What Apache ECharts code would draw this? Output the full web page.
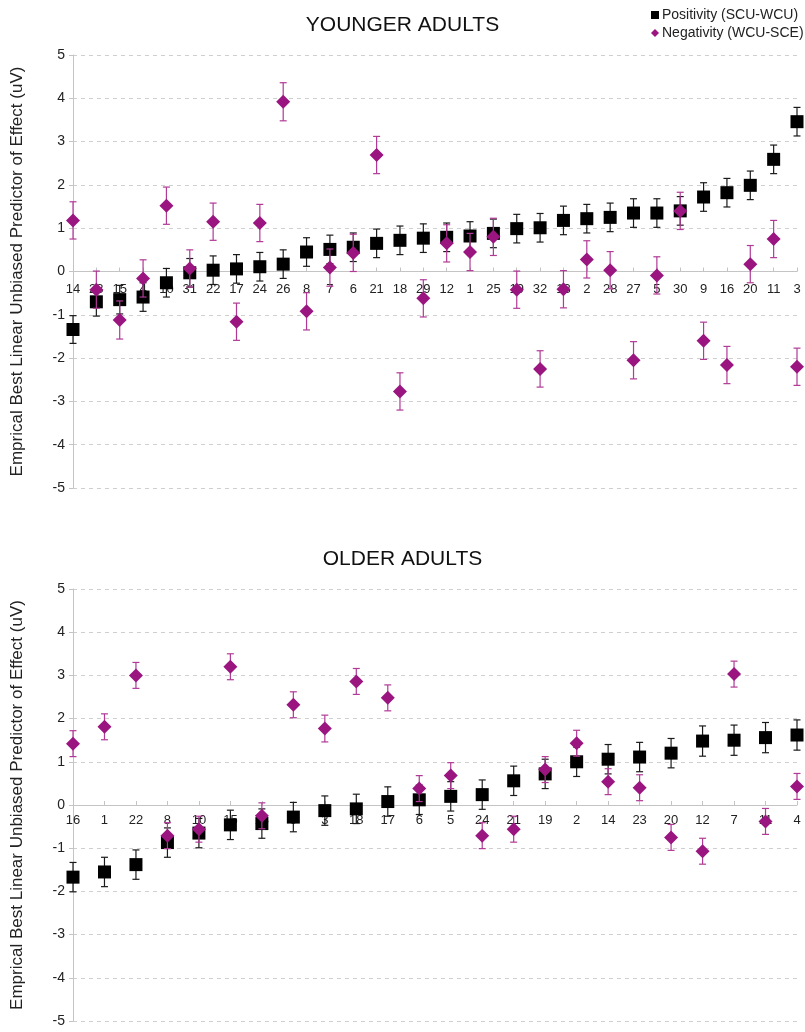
<!DOCTYPE html>
<html>
<head>
<meta charset="utf-8">
<script src="https://cdn.jsdelivr.net/npm/echarts@6/dist/echarts.min.js"></script>
<style>
html,body{margin:0;padding:0;background:#fff;}
#chart{width:805px;height:1032px;}
</style>
</head>
<body>
<div id="chart"></div>
<script>
// ---- Data ----
const catsYoung = ['14','23','15','4','10','31','22','17','24','26','8','7','6','21','18','29','12','1','25','19','32','13','2','28','27','5','30','9','16','20','11','3'];
const posYoung = [-1.34,-0.70,-0.65,-0.59,-0.26,-0.03,0.03,0.06,0.11,0.17,0.45,0.51,0.56,0.65,0.72,0.77,0.79,0.82,0.88,0.99,1.01,1.18,1.22,1.25,1.35,1.35,1.40,1.72,1.82,1.99,2.59,3.46];
const posYoungErr = [0.32,0.33,0.33,0.33,0.33,0.33,0.33,0.33,0.33,0.33,0.33,0.33,0.33,0.33,0.33,0.33,0.33,0.33,0.33,0.33,0.33,0.33,0.33,0.33,0.33,0.33,0.33,0.33,0.33,0.33,0.33,0.33];
const negYoung = [1.18,-0.42,-1.12,-0.16,1.52,0.07,1.15,-1.16,1.12,3.92,-0.92,0.09,0.43,2.69,-2.77,-0.62,0.65,0.45,0.80,-0.42,-2.25,-0.41,0.28,0.03,-2.05,-0.09,1.40,-1.60,-2.16,0.17,0.75,-2.20];
const negYoungErr = [0.43,0.43,0.44,0.43,0.43,0.43,0.43,0.43,0.43,0.44,0.43,0.43,0.43,0.43,0.43,0.43,0.43,0.43,0.43,0.43,0.42,0.43,0.43,0.43,0.43,0.43,0.43,0.43,0.43,0.43,0.43,0.43];

const catsOld = ['16','1','22','8','10','15','13','9','3','18','17','6','5','24','21','19','2','14','23','20','12','7','11','4'];
const posOld = [-1.67,-1.55,-1.38,-0.87,-0.65,-0.46,-0.43,-0.28,-0.13,-0.09,0.08,0.12,0.20,0.24,0.56,0.72,1.00,1.06,1.11,1.20,1.48,1.50,1.56,1.62];
const posOldErr = [0.34,0.34,0.34,0.34,0.34,0.34,0.34,0.34,0.34,0.34,0.34,0.34,0.34,0.34,0.34,0.34,0.34,0.34,0.34,0.34,0.35,0.35,0.35,0.35];
const negOld = [1.42,1.81,3.00,-0.71,-0.56,3.20,-0.25,2.32,1.77,2.86,2.48,0.38,0.68,-0.71,-0.56,0.82,1.43,0.54,0.40,-0.75,-1.07,3.03,-0.38,0.43];
const negOldErr = [0.30,0.30,0.30,0.30,0.30,0.30,0.30,0.30,0.31,0.30,0.30,0.30,0.30,0.30,0.30,0.30,0.30,0.30,0.30,0.30,0.30,0.30,0.30,0.30];

const yTicks = ['-5','-4','-3','-2','-1','0','1','2','3','4','5'];
const titles = ['YOUNGER ADULTS','OLDER ADULTS'];
const legendNames = ['Positivity (SCU-WCU)','Negativity (WCU-SCE)'];
const yName = 'Emprical Best Linear Unbiased Predictor of Effect (uV)';

// ---- Styling ----
const FONT = 'Liberation Sans, Arial, Helvetica, sans-serif';
const BLACK = '#000000';
const BLACK_ERR = '#1a1a1a';
const PURPLE = '#9a1580';
const PURPLE_ERR = '#b03a96';
const GRID_H = [433, 432];

function errData(vals, errs){ return vals.map((v,i)=>[i, v-errs[i], v+errs[i]]); }
function errRenderer(color){
  return function(params, api){
    const x = api.value(0);
    const hi = api.coord([x, api.value(2)]);
    const lo = api.coord([x, api.value(1)]);
    const w = 3.5;
    const st = {stroke: color, lineWidth: 1.2};
    return {type:'group', children:[
      {type:'line', shape:{x1:hi[0],y1:hi[1],x2:lo[0],y2:lo[1]}, style:st},
      {type:'line', shape:{x1:hi[0]-w,y1:hi[1],x2:hi[0]+w,y2:hi[1]}, style:st},
      {type:'line', shape:{x1:lo[0]-w,y1:lo[1],x2:lo[0]+w,y2:lo[1]}, style:st}
    ]};
  };
}

function xAxisCfg(cats, gi, margin){
  return {
    type:'category', gridIndex:gi, data:cats, boundaryGap:false,
    position:'bottom', offset: -GRID_H[gi]/2,
    axisLine:{onZero:false, lineStyle:{color:'#c4c4c4', width:1}},
    axisTick:{show:true, inside:true, length:4, alignWithLabel:true, lineStyle:{color:'#c4c4c4'}},
    axisLabel:{interval:0, fontSize:13, color:'#222', fontFamily:FONT, margin:margin},
    splitLine:{show:false}
  };
}
function yAxisCfg(gi){
  return {
    type:'value', gridIndex:gi, min:-5, max:5, interval:1,
    axisLine:{show:true, onZero:false, lineStyle:{color:'#c4c4c4'}},
    axisTick:{show:true, length:4, lineStyle:{color:'#c4c4c4'}},
    axisLabel:{fontSize:14, color:'#222', fontFamily:FONT, margin:8,
      formatter: v => yTicks[Math.round(v)+5]},
    splitLine:{show:true, lineStyle:{color:'#cfcfcf', type:[4,4], width:1}},
    name: yName, nameLocation:'middle', nameGap:47,
    nameTextStyle:{fontSize:17, color:'#222', fontFamily:FONT}
  };
}

const chart = echarts.init(document.getElementById('chart'), null, {renderer:'canvas'});
chart.setOption({
  animation:false,
  backgroundColor:'#fff',
  textStyle:{fontFamily:FONT},
  title:[
    {text:titles[0], left:'center', top:10, textStyle:{fontSize:21, fontWeight:'normal', color:'#111', fontFamily:FONT}},
    {text:titles[1], left:'center', top:544, textStyle:{fontSize:21, fontWeight:'normal', color:'#111', fontFamily:FONT}}
  ],
  legend:{
    orient:'vertical', left:646, top:3, itemGap:4, itemWidth:8, itemHeight:8,
    textStyle:{fontSize:14, color:'#222', fontFamily:FONT, padding:[0,0,0,-2]},
    data:[{name:legendNames[0], icon:'rect', itemStyle:{color:BLACK}},
          {name:legendNames[1], icon:'diamond', itemStyle:{color:PURPLE}}]
  },
  grid:[
    {left:73, right:8, top:55, height:GRID_H[0]},
    {left:73, right:8, top:589, height:GRID_H[1]}
  ],
  xAxis:[xAxisCfg(catsYoung,0,11), xAxisCfg(catsOld,1,9)],
  yAxis:[yAxisCfg(0), yAxisCfg(1)],
  series:[
    {type:'custom', name:'posErrY', xAxisIndex:0, yAxisIndex:0, renderItem:errRenderer(BLACK_ERR), data:errData(posYoung,posYoungErr), z:3, silent:true},
    {type:'scatter', name:legendNames[0], xAxisIndex:0, yAxisIndex:0, symbol:'rect', symbolSize:13, itemStyle:{color:BLACK, opacity:1}, data:posYoung, z:4},
    {type:'custom', name:'negErrY', xAxisIndex:0, yAxisIndex:0, renderItem:errRenderer(PURPLE_ERR), data:errData(negYoung,negYoungErr), z:5, silent:true},
    {type:'scatter', name:legendNames[1], xAxisIndex:0, yAxisIndex:0, symbol:'diamond', symbolSize:14, itemStyle:{color:PURPLE, opacity:1}, data:negYoung, z:6},

    {type:'custom', name:'posErrO', xAxisIndex:1, yAxisIndex:1, renderItem:errRenderer(BLACK_ERR), data:errData(posOld,posOldErr), z:3, silent:true},
    {type:'scatter', name:legendNames[0], xAxisIndex:1, yAxisIndex:1, symbol:'rect', symbolSize:13, itemStyle:{color:BLACK, opacity:1}, data:posOld, z:4},
    {type:'custom', name:'negErrO', xAxisIndex:1, yAxisIndex:1, renderItem:errRenderer(PURPLE_ERR), data:errData(negOld,negOldErr), z:5, silent:true},
    {type:'scatter', name:legendNames[1], xAxisIndex:1, yAxisIndex:1, symbol:'diamond', symbolSize:14, itemStyle:{color:PURPLE, opacity:1}, data:negOld, z:6}
  ]
});
</script>
</body>
</html>
